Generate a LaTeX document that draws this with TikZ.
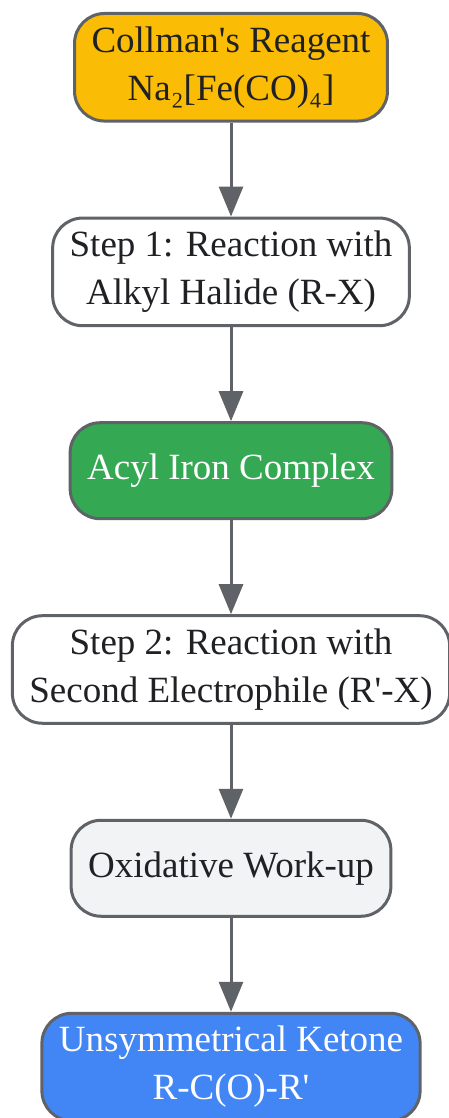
\documentclass[tikz,border=0pt]{standalone}
\usepackage{fontspec}
\setmainfont{Liberation Serif}
\usetikzlibrary{shapes,arrows.meta,positioning}
\definecolor{reagentorange}{HTML}{FBBC05}
\definecolor{acylgreen}{HTML}{34A853}
\definecolor{ketoneblue}{HTML}{4285F4}
\definecolor{workupgrey}{HTML}{F1F3F4}
\definecolor{edgegrey}{HTML}{5F6368}
\definecolor{textdark}{HTML}{202124}

\begin{document}
\begin{tikzpicture}[x=1pt, y=1pt, node distance=94pt, line width=3pt]
   \useasboundingbox (0,0) rectangle (449,-1118);
   \begin{scope}[every node/.style={rectangle, rounded corners=30pt, draw=edgegrey, align=center,
      font=\fontsize{37}{48}\selectfont, inner xsep=17pt, inner ysep=13pt, minimum height=96pt, text=textdark}]
    \node (reagent) [fill=reagentorange, anchor=north] at (231,-12) {Collman\textquotesingle s Reagent\\Na₂[Fe(CO)₄]};
    \node (step1) [fill=white, below=of reagent] {Step 1: Reaction with\\Alkyl Halide (R-X)};
    \node (acyl) [fill=acylgreen, text=white, below=of step1] {Acyl Iron Complex};
    \node (step2) [fill=white, below=of acyl] {Step 2: Reaction with\\Second Electrophile (R\textquotesingle-X)};
    \node (workup) [fill=workupgrey, below=of step2] {Oxidative Work-up};
    \node (ketone) [fill=ketoneblue, text=white, below=of workup] {Unsymmetrical Ketone\\R-C(O)-R\textquotesingle};
   \end{scope}
   \begin{scope}[-{Triangle[length=30pt,width=24pt]}, every edge/.style={draw=edgegrey, line width=3pt}]
    \draw  (reagent) edge (step1);
    \draw  (step1) edge (acyl);
    \draw  (acyl) edge (step2);
    \draw  (step2) edge (workup);
    \draw  (workup) edge (ketone);
   \end{scope}
\end{tikzpicture}
\end{document}
